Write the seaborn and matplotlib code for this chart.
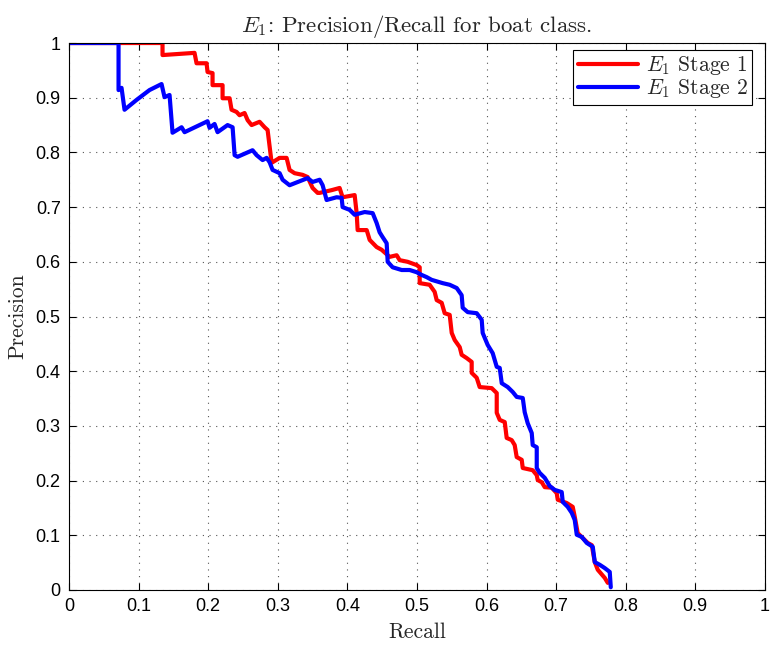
import matplotlib
matplotlib.use("Agg")
import matplotlib.pyplot as plt
import pandas as pd
import seaborn as sns

# Precision/recall operating points for the boat class
stage1_recall = [0.0, 0.1344, 0.1344, 0.1804, 0.1833, 0.1977, 0.1991, 0.2063, 0.2063, 0.2207,
                 0.2207, 0.2308, 0.2336, 0.2408, 0.2451, 0.2523, 0.2567, 0.2624, 0.2739, 0.2811,
                 0.2854, 0.2912, 0.3027, 0.3127, 0.3170, 0.3242, 0.3357, 0.3429, 0.3501, 0.3573,
                 0.3602, 0.3774, 0.3889, 0.3932, 0.4105, 0.4134, 0.4148, 0.4278, 0.4321, 0.4421,
                 0.4493, 0.4608, 0.4709, 0.4752, 0.4867, 0.4996, 0.5040, 0.5040, 0.5183, 0.5255,
                 0.5284, 0.5356, 0.5399, 0.5471, 0.5500, 0.5543, 0.5615, 0.5643, 0.5715, 0.5787,
                 0.5787, 0.5859, 0.5902, 0.6075, 0.6147, 0.6147, 0.6190, 0.6262, 0.6290, 0.6362,
                 0.6405, 0.6434, 0.6506, 0.6521, 0.6664, 0.6722, 0.6736, 0.6794, 0.6837, 0.6937,
                 0.7009, 0.7024, 0.7153, 0.7239, 0.7268, 0.7311, 0.7383, 0.7455, 0.7513, 0.7556,
                 0.7599, 0.7700, 0.7743]
stage1_precision = [1.0, 1.0, 0.978, 0.982, 0.963, 0.963, 0.947, 0.945, 0.923, 0.923,
                    0.899, 0.899, 0.878, 0.874, 0.868, 0.872, 0.859, 0.850, 0.856, 0.846,
                    0.841, 0.781, 0.790, 0.790, 0.768, 0.762, 0.759, 0.755, 0.735, 0.726,
                    0.726, 0.731, 0.735, 0.718, 0.722, 0.689, 0.658, 0.658, 0.640, 0.627,
                    0.622, 0.609, 0.612, 0.603, 0.600, 0.594, 0.590, 0.561, 0.558, 0.545,
                    0.530, 0.525, 0.506, 0.503, 0.470, 0.457, 0.444, 0.430, 0.424, 0.417,
                    0.397, 0.388, 0.371, 0.369, 0.360, 0.324, 0.311, 0.307, 0.278, 0.274,
                    0.265, 0.243, 0.238, 0.223, 0.219, 0.210, 0.201, 0.197, 0.188, 0.187,
                    0.177, 0.165, 0.159, 0.152, 0.134, 0.104, 0.095, 0.086, 0.082, 0.051,
                    0.037, 0.022, 0.013]

stage2_recall = [0.0, 0.0712, 0.0712, 0.0755, 0.0798, 0.0971, 0.1157, 0.1330, 0.1373, 0.1445,
                 0.1488, 0.1618, 0.1661, 0.1991, 0.2020, 0.2092, 0.2135, 0.2279, 0.2351, 0.2380,
                 0.2423, 0.2638, 0.2696, 0.2782, 0.2840, 0.2883, 0.2926, 0.3027, 0.3070, 0.3170,
                 0.3429, 0.3501, 0.3602, 0.3645, 0.3702, 0.3846, 0.3918, 0.3932, 0.4033, 0.4105,
                 0.4249, 0.4364, 0.4421, 0.4464, 0.4508, 0.4565, 0.4580, 0.4651, 0.4781, 0.4896,
                 0.4996, 0.5068, 0.5140, 0.5212, 0.5370, 0.5471, 0.5572, 0.5643, 0.5658, 0.5730,
                 0.5859, 0.5931, 0.5945, 0.6017, 0.6089, 0.6147, 0.6190, 0.6219, 0.6305, 0.6377,
                 0.6434, 0.6521, 0.6549, 0.6592, 0.6650, 0.6664, 0.6722, 0.6722, 0.6765, 0.6837,
                 0.6909, 0.6980, 0.7081, 0.7096, 0.7167, 0.7225, 0.7268, 0.7297, 0.7369, 0.7441,
                 0.7527, 0.7556, 0.7628, 0.7700, 0.7771, 0.7786]
stage2_precision = [1.0, 1.0, 0.914, 0.918, 0.878, 0.896, 0.914, 0.925, 0.901, 0.905,
                    0.836, 0.846, 0.837, 0.857, 0.845, 0.852, 0.837, 0.850, 0.846, 0.795,
                    0.792, 0.804, 0.795, 0.786, 0.790, 0.782, 0.768, 0.762, 0.750, 0.740,
                    0.753, 0.746, 0.750, 0.740, 0.713, 0.718, 0.717, 0.700, 0.695, 0.686,
                    0.691, 0.689, 0.671, 0.654, 0.645, 0.634, 0.600, 0.590, 0.585, 0.585,
                    0.581, 0.576, 0.572, 0.567, 0.561, 0.558, 0.552, 0.539, 0.516, 0.508,
                    0.506, 0.494, 0.470, 0.448, 0.433, 0.408, 0.406, 0.378, 0.371, 0.362,
                    0.353, 0.351, 0.325, 0.305, 0.287, 0.265, 0.261, 0.223, 0.214, 0.205,
                    0.190, 0.183, 0.179, 0.161, 0.152, 0.141, 0.128, 0.101, 0.097, 0.086,
                    0.079, 0.051, 0.046, 0.040, 0.033, 0.005]

series_labels = [r"$E_1$ Stage 1", r"$E_1$ Stage 2"]
series_colors = ["#ff0000", "#0000ff"]
tick_values = [0, 0.1, 0.2, 0.3, 0.4, 0.5, 0.6, 0.7, 0.8, 0.9, 1]
tick_labels = ["0", "0.1", "0.2", "0.3", "0.4", "0.5", "0.6", "0.7", "0.8", "0.9", "1"]

df = pd.concat([
    pd.DataFrame({"Recall": stage1_recall, "Precision": stage1_precision, "series": series_labels[0]}),
    pd.DataFrame({"Recall": stage2_recall, "Precision": stage2_precision, "series": series_labels[1]}),
], ignore_index=True)

sns.set_style("white")
plt.rcParams["mathtext.fontset"] = "cm"
plt.rcParams["font.family"] = ["Liberation Sans", "DejaVu Sans"]

fig = plt.figure(figsize=(7.71, 6.45), dpi=100)
ax = fig.add_axes([0.0895, 0.0853, 0.9025, 0.848])

sns.lineplot(data=df, x="Recall", y="Precision", hue="series", hue_order=series_labels,
             palette=series_colors, sort=False, estimator=None, linewidth=3.0, ax=ax,
             legend=False)

ax.set_xlim(0, 1)
ax.set_ylim(0, 1)
ax.set_xticks(tick_values)
ax.set_yticks(tick_values)
ax.set_xticklabels(tick_labels, fontsize=13)
ax.set_yticklabels(tick_labels, fontsize=13)
ax.tick_params(direction="in", length=5, width=0.8, top=True, right=True,
               bottom=True, left=True, colors="black", pad=6)
ax.grid(True, linestyle=(0, (1, 5)), color="#555555", linewidth=0.8)
for s in ax.spines.values():
    s.set_color("black")
    s.set_linewidth(0.8)

serif = "cmr10"
ax.set_xlabel("Recall", fontsize=15.5, family=serif, labelpad=5)
ax.set_ylabel("Precision", fontsize=15.5, family=serif, labelpad=6)
ax.set_title(r"$E_1$: Precision/Recall for boat class.", fontsize=16.5, family=serif, pad=8)

handles = [plt.Line2D([], [], color=c, linewidth=3.0) for c in series_colors]
leg = ax.legend(handles, series_labels, loc="upper right", bbox_to_anchor=(0.988, 0.995),
                prop={"family": serif, "size": 15.5}, frameon=True, fancybox=False,
                edgecolor="black", framealpha=1, borderpad=0.2, labelspacing=0.0,
                handlelength=2.8, handletextpad=0.35, borderaxespad=0.2)
leg.get_frame().set_linewidth(0.8)

fig.savefig("out.png", dpi=100)
